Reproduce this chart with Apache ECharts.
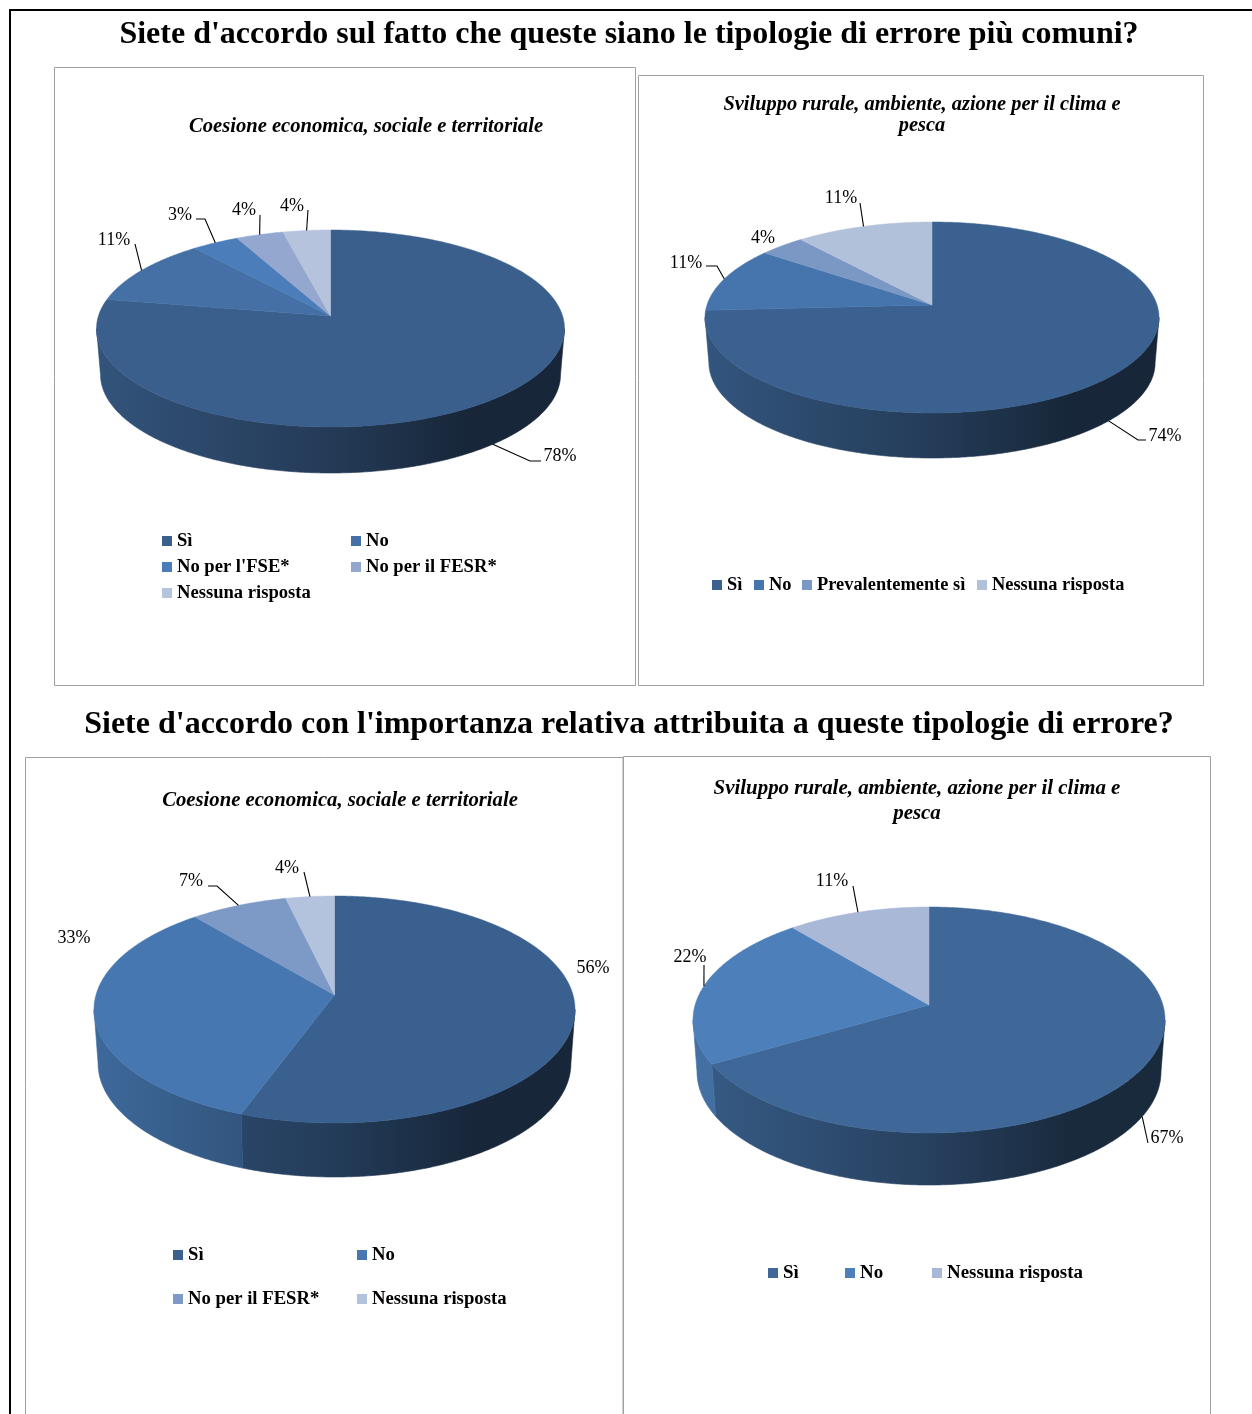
<!DOCTYPE html>
<html><head><meta charset="utf-8">
<style>html,body{margin:0;padding:0;background:#fff}#c{width:1252px;height:1414px}</style>
<script src="https://cdn.jsdelivr.net/npm/echarts@6/dist/echarts.min.js"></script>
</head><body><div id="c"></div>
<script>
// ---- data ----
const mainTitles = ["Siete d'accordo sul fatto che queste siano le tipologie di errore più comuni?",
                    "Siete d'accordo con l'importanza relativa attribuita a queste tipologie di errore?"];
const names1 = ['Sì','No',"No per l'FSE*",'No per il FESR*','Nessuna risposta'];
const values1 = [77.8,11.1,3.7,3.7,3.7];   // slice shares
const printed1 = [78,11,3,4,4];            // percentages as printed
const names2 = ['Sì','No','Prevalentemente sì','Nessuna risposta'];
const values2 = [74.1,11.1,3.7,11.1];
const printed2 = [74,11,4,11];
const names3 = ['Sì','No','No per il FESR*','Nessuna risposta'];
const values3 = [55.6,33.3,7.4,3.7];
const printed3 = [56,33,7,4];
const names4 = ['Sì','No','Nessuna risposta'];
const values4 = [66.7,22.2,11.1];
const printed4 = [67,22,11];
const subtitleA = 'Coesione economica, sociale e territoriale';
const subtitleB = 'Sviluppo rurale, ambiente, azione per il clima e\npesca';

// ---- layout and style ----
const SERIF = '"Liberation Serif","Times New Roman",serif';
const pies = [
 {names:names1, values:values1, printed:printed1, sub:subtitleA, subX:366, subY:126.5, subSize:20.6,
  colors:['#3a5f8c','#4570a6','#4a7db9','#93a7cf','#b5c3dc'],
  geo:{ax:330.5,ay:316,up:86,down:111,hw:234,depth:46},
  labels:[{at:[560,456.5],via:[[530,461],[541,461]]},{at:[114,240.5],via:[[135,244]]},{at:[180,215.5],via:[[205,219],[196,219]]},{at:[244,210.5],via:[[260,215]]},{at:[292,206.5],via:[[308,210]]}],
  legend:[[162,540],[351,540],[162,566],[351,566],[162,592]], legendSize:18.6},
 {names:names2, values:values2, printed:printed2, sub:subtitleB, subX:922, subY:115, subSize:20.4, subLine:21,
  colors:['#3a618f','#4675ae','#7b98c5','#b2c1da'],
  geo:{ax:932,ay:305,up:83,down:108,hw:227,depth:45},
  labels:[{at:[1165,436.5],via:[[1138,440],[1146,440]]},{at:[686,263.5],via:[[717,266],[706,266]]},{at:[763,238.5]},{at:[841,198.5],via:[[860,203]]}],
  legend:[[712,584],[754,584],[802,584],[977,584]], legendSize:18.4},
 {names:names3, values:values3, printed:printed3, sub:subtitleA, subX:340, subY:801, subSize:20.7,
  colors:['#39608f','#4677b0','#7d99c6','#b4c3dd'],
  geo:{ax:334.5,ay:995,up:99,down:128,hw:240.5,depth:54},
  labels:[{at:[593,968.5]},{at:[74,938.5]},{at:[191,881.5],via:[[217,886],[208,886]]},{at:[287,868.5],via:[[304,872]]}],
  legend:[[173,1254],[357,1254],[173,1298],[357,1298]], legendSize:18.7},
 {names:names4, values:values4, printed:printed4, sub:subtitleB, subX:917, subY:801.5, subSize:20.9, subLine:25,
  colors:['#3f6899','#4d80bb','#a9b8d7'],
  geo:{ax:929,ay:1005,up:98,down:128,hw:236,depth:52},
  labels:[{at:[1167,1138.5],via:[[1148,1143]]},{at:[690,957.5],via:[[704,965]]},{at:[832,881.5],via:[[853,886]]}],
  legend:[[768,1272],[845,1272],[932,1272]], legendSize:18.9}
];
const panels = [[54.5,67.5,581,618],[638.5,75.5,565,610],[25.5,757.5,597.5,700],[623.5,756.5,587,700]];
const WALL_STOPS = [[0,.88],[.3,.72],[.5,.62],[.8,.40],[1,.40]];

function shade(hex,f){
  const n=parseInt(hex.slice(1),16);
  const c=[n>>16,(n>>8)&255,n&255].map(v=>Math.round(v*f));
  return 'rgb('+c.join(',')+')';
}
// perspective projection of a circle: angle clockwise from 12 o'clock
function projector(g){
  const p=(g.down-g.up)/(g.down+g.up), b=g.up*(1+p), a=g.hw*Math.sqrt(1-p*p);
  const fn=t=>{const u=Math.sin(t),v=-Math.cos(t),w=1-p*v;return [g.ax+a*u/w,g.ay+b*v/w];};
  fn.front=[Math.acos(-p),2*Math.PI-Math.acos(-p)];
  return fn;
}
function arc(t0,t1){const n=Math.max(2,Math.ceil((t1-t0)/0.01)),o=[];for(let i=0;i<=n;i++)o.push(t0+(t1-t0)*i/n);return o;}
const SHRINK=0.983;

function sliceSeries(pie,i,startFrac,total){
  const g=pie.geo, P=projector(g), color=pie.colors[i], lab=pie.labels[i];
  return {
    type:'custom', name:pie.names[i], coordinateSystem:'none', silent:true, animation:false,
    itemStyle:{color:color}, data:[[pie.values[i],pie.printed[i]]], clip:false,
    renderItem:function(params,api){
      const frac=api.value(0)/total, t0=startFrac*2*Math.PI, t1=(startFrac+frac)*2*Math.PI, tm=(t0+t1)/2;
      const kids=[];
      const low=pt=>[g.ax+(pt[0]-g.ax)*SHRINK,pt[1]+g.depth];
      // side wall, only where the rim faces the viewer
      const a=Math.max(t0,P.front[0]), b=Math.min(t1,P.front[1]);
      if(b>a){
        const ts=arc(a,b), top=ts.map(P), bot=ts.map(t=>low(P(t))).reverse();
        const x0=g.ax-g.hw,x1=g.ax+g.hw;
        const fill=new echarts.graphic.LinearGradient(x0,0,x1,0,WALL_STOPS.map(s=>({offset:s[0],color:shade(color,s[1])})),true);
        kids.push({type:'polygon',z2:1,shape:{points:top.concat(bot)},style:{fill:fill,stroke:fill,lineWidth:.6}});
      }
      // top face
      const pts=[[g.ax,g.ay]].concat(arc(t0,t1).map(P));
      kids.push({type:'polygon',z2:5,shape:{points:pts},style:{fill:color,stroke:color,lineWidth:.5}});
      // leader + label
      if(lab.via){
        const onRim=P(tm), inFront=tm>P.front[0]&&tm<P.front[1];
        const s=inFront?low(onRim):onRim;
        kids.push({type:'polyline',z2:15,shape:{points:[s].concat(lab.via)},style:{fill:null,stroke:'#000',lineWidth:1.1}});
      }
      kids.push({type:'text',z2:20,style:{text:api.value(1)+'%',x:lab.at[0],y:lab.at[1],fill:'#000',
        font:'18px '+SERIF,align:'center',verticalAlign:'middle'}});
      return {type:'group',children:kids};
    }
  };
}

const series=[], legends=[], titles=[];
pies.forEach(pie=>{
  const total=pie.values.reduce((s,v)=>s+v,0);
  let cum=0;
  pie.values.forEach((v,i)=>{
    series.push(sliceSeries(pie,i,cum/total,total));
    cum+=v;
    const pos=pie.legend[i];
    legends.push({left:pos[0],top:pos[1]-9,padding:0,orient:'horizontal',itemWidth:10,itemHeight:10,itemGap:0,
      icon:'rect',selectedMode:false,
      data:[{name:pie.names[i],icon:'rect',itemStyle:{color:pie.colors[i]}}],
      textStyle:{fontFamily:SERIF,fontWeight:'bold',fontSize:pie.legendSize,color:'#000',lineHeight:20}});
  });
  titles.push({text:pie.sub,left:pie.subX,top:pie.subY,textAlign:'center',textVerticalAlign:'middle',padding:0,
    textStyle:{fontFamily:SERIF,fontWeight:'bold',fontStyle:'italic',fontSize:pie.subSize,color:'#000',lineHeight:pie.subLine||22}});
});
mainTitles.forEach((t,i)=>titles.push({text:t,left:629,top:i?725:35,textAlign:'center',textVerticalAlign:'middle',padding:0,
  textStyle:{fontFamily:SERIF,fontWeight:'bold',fontSize:32,color:'#000'}}));

const graphics=[{type:'rect',z:-1,shape:{x:10,y:10,width:1400,height:1600},style:{fill:'#fff',stroke:'#000',lineWidth:2}}]
 .concat(panels.map(r=>({type:'rect',z:0,shape:{x:r[0],y:r[1],width:r[2],height:r[3]},style:{fill:'#fff',stroke:'#a0a0a0',lineWidth:1}})));

const chart=echarts.init(document.getElementById('c'));
chart.setOption({animation:false,backgroundColor:'#fff',title:titles,legend:legends,series:series,graphic:{elements:graphics},tooltip:{show:false}});
</script></body></html>
